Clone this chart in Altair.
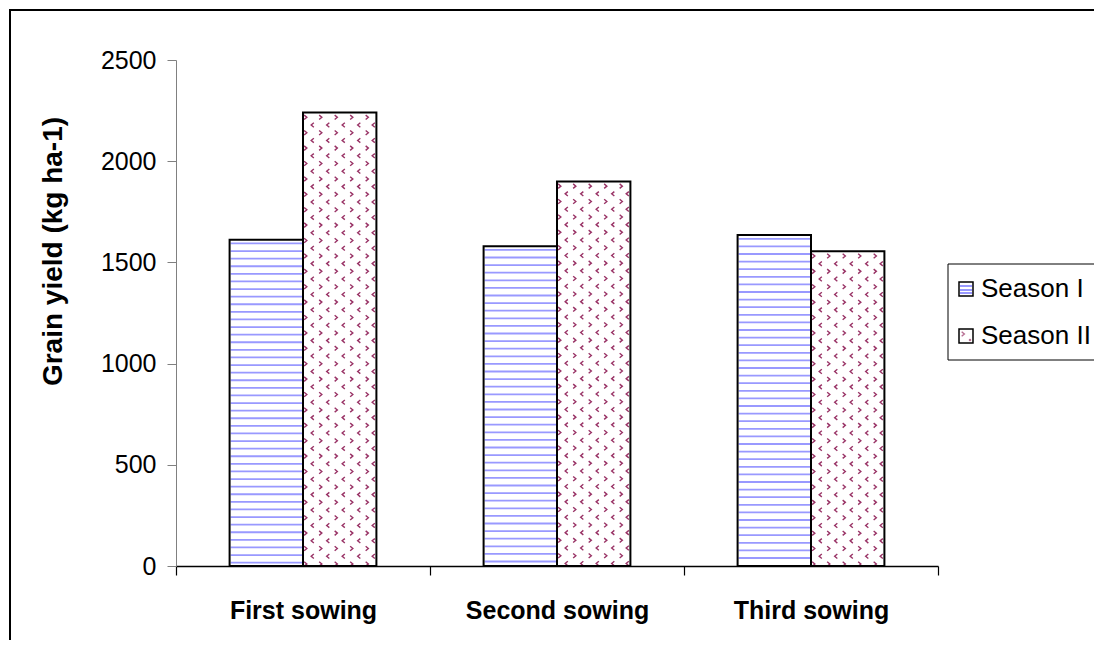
import json
import altair as alt
import pandas as pd

# ---------------- data ----------------
categories = ["First sowing", "Second sowing", "Third sowing"]
series = ["Season I", "Season II"]
season_1 = [1612, 1580, 1635]
season_2 = [2240, 1900, 1555]
y_ticks = [0, 500, 1000, 1500, 2000, 2500]
y_title = "Grain yield (kg ha-1)"

# ---------------- layout ----------------
W, H = 762, 506
FONT = "Liberation Sans"
BAR = 0.289            # bar width, in category units
PX = 3 / W             # one pixel in x units
PY = 2500 / H          # one pixel in y units
BLUE = "#9999ff"
PLUM = "#993366"

rows = []
for i, c in enumerate(categories):
    for j, (s, vals) in enumerate(zip(series, [season_1, season_2])):
        x0 = i + 0.5 - BAR + j * BAR
        rows.append({"category": c, "series": s, "value": vals[i],
                     "x0": x0, "x1": x0 + BAR})
bars = pd.DataFrame(rows)

# texture for Season I: horizontal stripes
stripe_rows = []
for _, r in bars[bars.series == series[0]].iterrows():
    k = 0
    while True:
        ypx = 3.7 + 7.6 * k
        yv = r.value - ypx * PY
        if yv <= 1 * PY:
            break
        stripe_rows.append({"x0": r.x0 + 1 * PX, "x1": r.x1 - 1 * PX, "value": yv})
        k += 1
stripes = pd.DataFrame(stripe_rows)

# texture for Season II: small chevrons
dot_rows = []
for _, r in bars[bars.series == series[1]].iterrows():
    k = 0
    while True:
        ypx = 4.7 + 7.7 * k
        yv = r.value - ypx * PY
        if yv <= 2 * PY:
            break
        if k % 2 == 0:
            offs, kind = [2.5, 17.5, 33, 48.5, 64], "r"
        else:
            offs, kind = [9.5, 25, 40.5, 56, 70.5], "l"
        for o in offs:
            dot_rows.append({"x0": r.x0 + o * PX, "value": yv, "kind": kind})
        k += 1
dots = pd.DataFrame(dot_rows)

x_scale = alt.Scale(domain=[0, 3], nice=False, zero=False)
y_scale = alt.Scale(domain=[0, 2500], nice=False)

label_expr = ("datum.value % 1 === 0 ? '' : " + json.dumps(categories).replace('"', "'")
              + "[floor(datum.value)]")

x_axis = alt.Axis(
    values=[0, 0.5, 1, 1.5, 2, 2.5, 3], labelExpr=label_expr, title=None,
    grid=False, domainColor="black", domainWidth=1.5, tickColor="black",
    tickWidth=1.2, tickSize=9,
    tickOpacity={"condition": {"test": "datum.value % 1 !== 0", "value": 0}, "value": 1},
    labelFont=FONT, labelFontSize=25, labelFontWeight="bold", labelColor="black",
    labelPadding=23, labelFlush=False, labelOverlap=False, labelLimit=0,
)
y_axis = alt.Axis(
    values=y_ticks, format="d", title=y_title, grid=False, domainColor="#808080",
    tickColor="#808080", tickSize=9, labelFont=FONT, labelFontSize=25,
    labelColor="black", labelPadding=11,
    titleFont=FONT, titleFontSize=28, titleFontWeight="bold", titleColor="black",
    titleX=-123, titleY=191, titleAlign="center", titleBaseline="middle",
    titleLimit=0,
)

X = alt.X("x0:Q", scale=x_scale, axis=x_axis)
Y = alt.Y("value:Q", scale=y_scale, axis=y_axis)

base_bars = alt.Chart(bars).mark_rect(fill="white").encode(
    x=X, x2="x1:Q", y=Y, y2=alt.datum(0))

stripe_layer = alt.Chart(stripes).mark_rule(color=BLUE, strokeWidth=1.8).encode(
    x=X, x2="x1:Q", y=Y)

right_chev = alt.Chart(dots).transform_filter("datum.kind === 'r'").mark_point(
    shape="M -0.6 -1 L 0.6 0 L -0.6 1", filled=False, stroke=PLUM,
    strokeWidth=1.4, size=20, opacity=1,
).encode(x=X, y=Y)
left_chev = alt.Chart(dots).transform_filter("datum.kind === 'l'").mark_point(
    shape="M 0.6 -1 L -0.6 0 L 0.6 1", filled=False, stroke=PLUM,
    strokeWidth=1.4, size=20, opacity=1,
).encode(x=X, y=Y)

outline = alt.Chart(bars).mark_rect(fill="transparent", stroke="black", strokeWidth=2).encode(
    x=X, x2="x1:Q", y=Y, y2=alt.datum(0))

one = pd.DataFrame({"k": [0]})

# outer frame of the figure
frame = alt.Chart(one).mark_rect(fill="transparent", stroke="black", strokeWidth=2).encode(
    x=alt.value(-166), y=alt.value(-50), x2=alt.value(1500), y2=alt.value(1500))

# legend (drawn, since symbols carry the textures)
LX, LY = 772, 204
legend_box = alt.Chart(one).mark_rect(fill="white", stroke="black", strokeWidth=1).encode(
    x=alt.value(LX), y=alt.value(LY), x2=alt.value(1500), y2=alt.value(LY + 96))

leg_layers = [legend_box]
for i, s in enumerate(series):
    top = LY + 17 + 47 * i
    sym = alt.Chart(one).mark_rect(fill="white", stroke="black", strokeWidth=1.5).encode(
        x=alt.value(LX + 11), x2=alt.value(LX + 25), y=alt.value(top + 1), y2=alt.value(top + 15))
    leg_layers.append(sym)
    if i == 0:
        for d in (5, 9, 12):
            leg_layers.append(alt.Chart(one).mark_rule(color=BLUE, strokeWidth=2).encode(
                x=alt.value(LX + 12), x2=alt.value(LX + 24),
                y=alt.value(top + d), y2=alt.value(top + d)))
    else:
        leg_layers.append(alt.Chart(one).mark_point(
            shape="M -0.6 -1 L 0.6 0 L -0.6 1", filled=False, stroke=PLUM,
            strokeWidth=1.4, size=20).encode(x=alt.value(LX + 15), y=alt.value(top + 6)))
        leg_layers.append(alt.Chart(one).mark_point(
            shape="square", filled=True, fill=PLUM, size=5).encode(
            x=alt.value(LX + 22), y=alt.value(top + 12)))
    leg_layers.append(alt.Chart(pd.DataFrame({"label": [s]})).mark_text(
        align="left", baseline="middle", font=FONT, fontSize=26, color="black").encode(
        x=alt.value(LX + 33), y=alt.value(top + 8), text="label:N"))

chart = alt.layer(
    frame, base_bars, stripe_layer, right_chev, left_chev, outline, *leg_layers
).properties(
    width=W, height=H,
    autosize=alt.AutoSizeParams(type="none"),
    padding={"left": 168, "top": 52, "right": 156, "bottom": 74},
    background="white",
).configure(font=FONT).configure_view(strokeWidth=0)

chart.save("out.html", embed_options={"renderer": "svg", "actions": False})
